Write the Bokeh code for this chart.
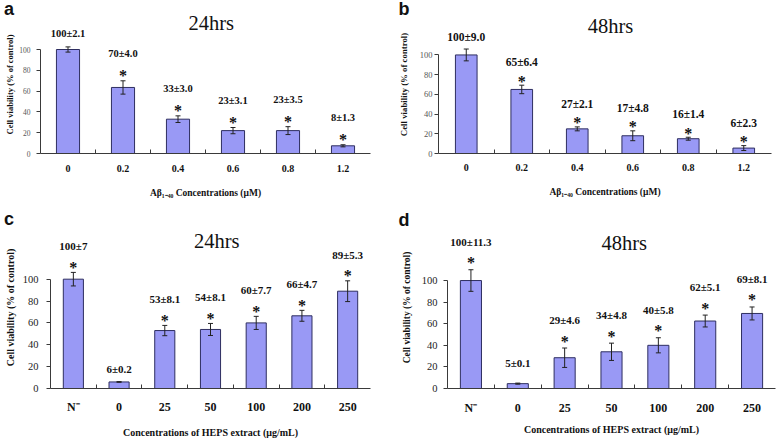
from bokeh.plotting import figure
from bokeh.layouts import column, row
from bokeh.models import Range1d, FixedTicker, Whisker, TeeHead, ColumnDataSource, Label
from bokeh.embed import file_html
from bokeh.resources import INLINE
from bokeh.core.properties import value

# ---------------- data ----------------
a_cats = ["0", "0.2", "0.4", "0.6", "0.8", "1.2"]
a_means = [100, 63.5, 33, 22, 22, 7.4]
a_errs = [2.5, 6.4, 3.2, 3.0, 3.8, 1.0]
a_labels = ["100±2.1", "70±4.0", "33±3.0", "23±3.1", "23±3.5", "8±1.3"]
a_stars = [False, True, True, True, True, True]

b_cats = ["0", "0.2", "0.4", "0.6", "0.8", "1.2"]
b_means = [100, 65, 25, 18, 15, 5.5]
b_errs = [6.0, 4.3, 2.0, 5.0, 1.5, 2.5]
b_labels = ["100±9.0", "65±6.4", "27±2.1", "17±4.8", "16±1.4", "6±2.3"]
b_stars = [False, True, True, True, True, True]

c_cats = ["N⁻", "0", "25", "50", "100", "200", "250"]
c_means = [100, 6, 53, 54, 60, 66.5, 89]
c_errs = [6.2, 0.3, 4.7, 5.5, 6.0, 5.0, 9.5]
c_labels = ["100±7", "6±0.2", "53±8.1", "54±8.1", "60±7.7", "66±4.7", "89±5.3"]
c_stars = [True, False, True, True, True, True, True]

d_cats = ["N⁻", "0", "25", "50", "100", "200", "250"]
d_means = [100, 4.5, 28.5, 34, 40, 62.5, 69.5]
d_errs = [10.0, 0.5, 9.0, 8.0, 7.0, 5.5, 6.0]
d_labels = ["100±11.3", "5±0.1", "29±4.6", "34±4.8", "40±5.8", "62±5.1", "69±8.1"]
d_stars = [True, False, True, True, True, True, True]

y_ticks = [0, 20, 40, 60, 80, 100]
y_title = "Cell viability (% of control)"
ab_xlabel = "Aβ₁₋₄₀ Concentrations (μM)"
cd_xlabel = "Concentrations of HEPS extract (μg/mL)"

SERIF = "Liberation Serif"
SANS = "Liberation Sans"
FILL = "#9999f5"
EDGE = "#2e2e60"
AX = "#3a3a3a"


def panel(cats, means, errs, labels, stars, title, xlabel, g):
    n = len(cats)
    W, H = g["W"], g["H"]
    mbl, mbr, mbb = g["mbl"], g["mbr"], g["mbb"]
    fw = W - mbl - mbr
    fh = H - mbb
    ppu = g["ppu"]
    y_end = fh / ppu
    cat_px = fw / n

    def to_data(fx, fy):
        return (-0.5 + (fx - mbl) / cat_px, (fh - fy) / ppu)

    p = figure(width=W, height=H, x_range=Range1d(-0.5, n - 0.5),
               y_range=Range1d(0, y_end), output_backend="svg",
               toolbar_location=None, min_border_left=mbl,
               min_border_right=mbr, min_border_bottom=mbb, min_border_top=0)
    p.outline_line_color = None
    p.xgrid.visible = False
    p.ygrid.visible = False
    p.background_fill_color = "white"
    p.border_fill_color = "white"

    xs = list(range(n))
    upper = [m + e for m, e in zip(means, errs)]
    lower = [m - e for m, e in zip(means, errs)]
    offs = [-g["label_off"] if s else -g["nostar_off"] for s in stars]
    src = ColumnDataSource(dict(x=xs, top=means, upper=upper, lower=lower,
                                label=labels, off=offs))
    p.vbar(x="x", top="top", width=g["bw"], source=src, fill_color=FILL,
           line_color=EDGE, line_width=1)
    wh = Whisker(source=src, base="x", upper="upper", lower="lower",
                 line_color="#222222", line_width=1, level="overlay",
                 upper_head=TeeHead(size=5, line_color="#222222", line_width=1),
                 lower_head=TeeHead(size=5, line_color="#222222", line_width=1))
    p.add_layout(wh)

    p.text(x="x", y="upper", text="label", y_offset="off", source=src,
           text_font=value(SERIF), text_font_style="bold",
           text_font_size=g["val_size"], text_align="center",
           text_baseline="middle", text_color="#111111")

    sx = [x for x, s in zip(xs, stars) if s]
    sy = [u for u, s in zip(upper, stars) if s]
    ssrc = ColumnDataSource(dict(x=sx, y=sy))
    p.text(x="x", y="y", text=value("*"), source=ssrc, y_offset=-g["star_off"] + 5,
           text_font=value(SERIF), text_font_style="bold", text_font_size="16px",
           text_align="center", text_baseline="middle", text_color="#111111")

    tx, ty = to_data(*g["title_xy"])
    p.add_layout(Label(x=tx, y=ty, text=title, text_font=SERIF,
                       text_font_size="20.5px", text_align="center",
                       text_baseline="middle", text_color="#111111"))

    yax = p.yaxis[0]
    yax.ticker = FixedTicker(ticks=y_ticks)
    yax.bounds = (0, 100)
    yax.axis_line_color = AX
    yax.major_tick_line_color = AX
    yax.major_tick_in = 0
    yax.major_tick_out = 4
    yax.minor_tick_line_color = None
    yax.major_label_text_font = SERIF
    yax.major_label_text_font_size = g["ytick_size"]
    yax.major_label_text_color = g["ytick_color"]
    yax.major_label_standoff = g["ytick_standoff"]
    yax.axis_label = y_title
    yax.axis_label_text_font = SERIF
    yax.axis_label_text_font_style = "bold"
    yax.axis_label_text_font_size = g["ylabel_size"]
    yax.axis_label_text_color = "#111111"
    yax.axis_label_standoff = g["ylabel_standoff"]

    xax = p.xaxis[0]
    xax.ticker = FixedTicker(ticks=xs, minor_ticks=[i + 0.5 for i in range(n - 1)])
    xax.major_label_overrides = {i: c for i, c in enumerate(cats)}
    xax.axis_line_color = AX
    xax.major_tick_line_color = None
    xax.major_tick_in = 0
    xax.major_tick_out = 0
    xax.minor_tick_line_color = AX
    xax.minor_tick_in = 4
    xax.minor_tick_out = 0
    xax.major_label_text_font = SERIF
    xax.major_label_text_font_style = "bold"
    xax.major_label_text_font_size = g["xtick_size"]
    xax.major_label_text_color = "#111111"
    xax.major_label_standoff = g["xtick_standoff"]
    xax.axis_label = xlabel
    xax.axis_label_text_font = SERIF
    xax.axis_label_text_font_style = "bold"
    xax.axis_label_text_font_size = g["xlabel_size"]
    xax.axis_label_text_color = "#111111"
    xax.axis_label_standoff = g["xlabel_standoff"]
    return p


def letter_strip(letters, width, height):
    # letters: list of (text, left_px, baseline_px); drawn with a middle anchor
    f = figure(width=width, height=height, x_range=Range1d(0, width),
               y_range=Range1d(0, height), x_axis_type=None, y_axis_type=None,
               output_backend="svg", toolbar_location=None, min_border=0)
    f.outline_line_color = None
    f.background_fill_color = "white"
    f.border_fill_color = "white"
    for gr in f.grid:
        gr.visible = False
    for t, left, base in letters:
        mid = base - 0.3465 * 18
        f.add_layout(Label(x=left, y=height - mid, text=t, text_font=SANS,
                           text_font_style="bold", text_font_size="18px",
                           text_align="left", text_baseline="middle",
                           text_color="#111111"))
    return f


ga = dict(W=388, H=196, mbl=40, mbr=18, mbb=58, ppu=1.04, bw=0.42,
          ytick_size="7.5px", ytick_color="#555555", ytick_standoff=6,
          ylabel_size="8.5px", ylabel_standoff=1,
          xtick_size="10px", xtick_standoff=11, xlabel_size="9.5px", xlabel_standoff=13,
          val_size="10.5px", star_off=10.5, label_off=27, nostar_off=13,
          title_xy=(210.8, 7.5))
gb = dict(W=389, H=196, mbl=50, mbr=6, mbb=55, ppu=1.007, bw=0.39,
          ytick_size="8.5px", ytick_color="#555555", ytick_standoff=2,
          ylabel_size="8.8px", ylabel_standoff=8,
          xtick_size="10px", xtick_standoff=10, xlabel_size="9.5px", xlabel_standoff=13,
          val_size="11.5px", star_off=9, label_off=23, nostar_off=12,
          title_xy=(222, 10.5))
gc = dict(W=388, H=214, mbl=50, mbr=18, mbb=47, ppu=1.127, bw=0.44,
          ytick_size="10.5px", ytick_color="#222222", ytick_standoff=8,
          ylabel_size="10px", ylabel_standoff=4,
          xtick_size="12px", xtick_standoff=11, xlabel_size="10px", xlabel_standoff=10,
          val_size="11px", star_off=10, label_off=26, nostar_off=13,
          title_xy=(216.3, 14.5))
gd = dict(W=389, H=214, mbl=59, mbr=2, mbb=44, ppu=1.133, bw=0.45,
          ytick_size="10.5px", ytick_color="#222222", ytick_standoff=6,
          ylabel_size="9.5px", ylabel_standoff=7,
          xtick_size="12px", xtick_standoff=12, xlabel_size="10px", xlabel_standoff=6,
          val_size="11px", star_off=12, label_off=28, nostar_off=20,
          title_xy=(235.8, 17))

pa = panel(a_cats, a_means, a_errs, a_labels, a_stars, "24hrs", ab_xlabel, ga)
pb = panel(b_cats, b_means, b_errs, b_labels, b_stars, "48hrs", ab_xlabel, gb)
pc = panel(c_cats, c_means, c_errs, c_labels, c_stars, "24hrs", cd_xlabel, gc)
pd = panel(d_cats, d_means, d_errs, d_labels, d_stars, "48hrs", cd_xlabel, gd)

top_strip = letter_strip([("a", 3.5, 14.6), ("b", 398, 14.6)], 777, 15)
bottom_strip = letter_strip([("c", 3.5, 14), ("d", 398, 14.5)], 777, 15)

layout = column(top_strip, row(pa, pb), bottom_strip, row(pc, pd))
open("out.html", "w").write(file_html(layout, INLINE))
